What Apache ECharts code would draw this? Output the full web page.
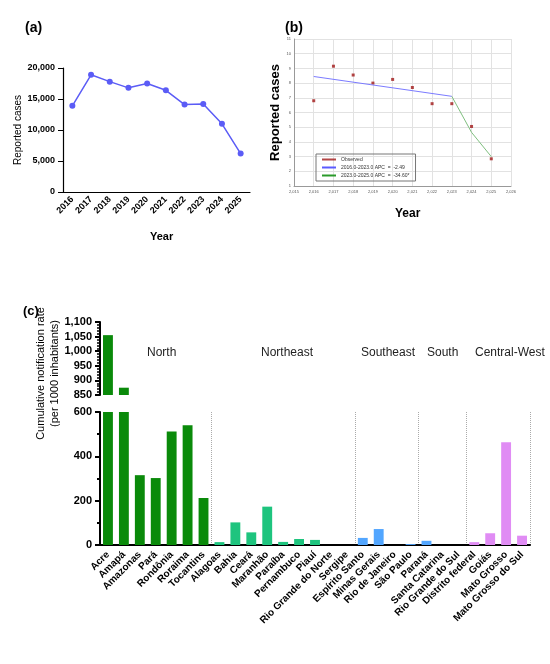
<!DOCTYPE html>
<html><head><meta charset="utf-8">
<script src="https://cdn.jsdelivr.net/npm/echarts@6/dist/echarts.min.js"></script>
<style>html,body{margin:0;background:#fff}#c{width:550px;height:664px}</style>
</head><body><div id="c"></div>
<script>
// (a) reported cases per year
var yearsA = ['2016','2017','2018','2019','2020','2021','2022','2023','2024','2025'];
var casesA = [13900, 18900, 17800, 16800, 17500, 16400, 14100, 14200, 11000, 6200];

// (b) joinpoint: observed (log scale-ish units) and fitted segments
var yearsB = [2016, 2017, 2018, 2019, 2020, 2021, 2022, 2023, 2024, 2025];
var observedB = [6.8, 9.15, 8.55, 8.0, 8.25, 7.7, 6.6, 6.6, 5.05, 2.85];
var seg1Years = [2016, 2023];
var seg1Vals = [8.45, 7.1];
var seg2Years = [2023, 2024, 2025];
var seg2Vals = [7.1, 4.65, 3.0];

// (c) cumulative notification rate by state
var states = ['Acre','Amapá','Amazonas','Pará','Rondônia','Roraima','Tocantins',
  'Alagoas','Bahia','Ceará','Maranhão','Paraíba','Pernambuco','Piauí','Rio Grande do Norte','Sergipe',
  'Espírito Santo','Minas Gerais','Rio de Janeiro','São Paulo',
  'Paraná','Santa Catarina','Rio Grande do Sul',
  'Distrito federal','Goiás','Mato Grosso','Mato Grosso do Sul'];
var rates = [1055, 875, 315, 302, 512, 540, 212,
  13, 102, 57, 173, 14, 27, 23, 0, 0,
  32, 72, 0, 4,
  19, 0, 0,
  13, 53, 463, 42];
var regionOf = ['N','N','N','N','N','N','N','NE','NE','NE','NE','NE','NE','NE','NE','NE',
  'SE','SE','SE','SE','S','S','S','CW','CW','CW','CW'];
var regionNames = ['North','Northeast','Southeast','South','Central-West'];
var boundaries = [7, 16, 20, 23];

var regionColor = {N:'#0a8a0a', NE:'#1ec47e', SE:'#52a6ff', S:'#52a6ff', CW:'#e08cf4'};
var bold = {fontFamily:'Arial, Liberation Sans', fontWeight:'bold', color:'#000'};

var rateData = rates.map(function (v, i) {
  return {value: v, itemStyle: {color: regionColor[regionOf[i]]}};
});
var rateTop = rates.map(function (v, i) {
  return v > 850 ? {value: v, itemStyle: {color: regionColor[regionOf[i]]}} : null;
});

var myChart = echarts.init(document.getElementById('c'));
var option = {
  backgroundColor: '#fff',
  animation: false,
  title: [
    {text: '(a)', left: 20, top: 16, textStyle: Object.assign({fontSize: 14}, bold)},
    {text: '(b)', left: 280, top: 16, textStyle: Object.assign({fontSize: 14}, bold)},
    {text: '(c)', left: 18, top: 300, textStyle: Object.assign({fontSize: 13}, bold)},
    {text: 'Year', left: 145, top: 226, textStyle: Object.assign({fontSize: 11}, bold)},
    {text: 'Year', left: 390, top: 203, textStyle: Object.assign({fontSize: 12}, bold)},
    {text: 'North', left: 142, top: 342, textStyle: {fontSize: 12, color: '#222', fontWeight: 'normal', fontFamily: 'Arial, Liberation Sans'}},
    {text: 'Northeast', left: 256, top: 342, textStyle: {fontSize: 12, color: '#222', fontWeight: 'normal', fontFamily: 'Arial, Liberation Sans'}},
    {text: 'Southeast', left: 356, top: 342, textStyle: {fontSize: 12, color: '#222', fontWeight: 'normal', fontFamily: 'Arial, Liberation Sans'}},
    {text: 'South', left: 422, top: 342, textStyle: {fontSize: 12, color: '#222', fontWeight: 'normal', fontFamily: 'Arial, Liberation Sans'}},
    {text: 'Central-West', left: 470, top: 342, textStyle: {fontSize: 12, color: '#222', fontWeight: 'normal', fontFamily: 'Arial, Liberation Sans'}}
  ],
  legend: {
    data: [
      {name: 'Observed', icon: 'rect'},
      {name: '2016.0-2023.0 APC  =  -2.49', icon: 'rect'},
      {name: '2023.0-2025.0 APC  =  -34.60*', icon: 'rect'}
    ],
    orient: 'vertical', left: 316, top: 154, itemWidth: 14, itemHeight: 2, itemGap: 3,
    padding: [3, 6], borderColor: '#777', borderWidth: 1,
    textStyle: {fontSize: 5, color: '#333'}
  },
  grid: [
    {left: 63, top: 68, width: 187, height: 124},
    {left: 294, top: 39, width: 217, height: 147},
    {left: 100, top: 322, width: 430, height: 73},
    {left: 100, top: 412, width: 430, height: 133}
  ],
  xAxis: [
    {gridIndex: 0, type: 'category', data: yearsA, boundaryGap: true,
      axisLine: {lineStyle: {color: '#000', width: 1.2}},
      axisTick: {alignWithLabel: true, lineStyle: {color: '#000'}},
      axisLabel: Object.assign({rotate: 45, fontSize: 9, margin: 6, interval: 0}, bold)},
    {gridIndex: 1, type: 'value', min: 2015, max: 2026, interval: 1,
      axisLine: {show: true, lineStyle: {color: '#999'}}, axisTick: {show: false},
      splitLine: {lineStyle: {color: '#e2e2e2'}},
      axisLabel: {fontSize: 4, color: '#555', margin: 4}},
    {gridIndex: 2, type: 'category', data: states, show: false, boundaryGap: true},
    {gridIndex: 3, type: 'category', data: states, boundaryGap: true,
      axisLine: {lineStyle: {color: '#000', width: 2}},
      axisTick: {alignWithLabel: true, length: 6, lineStyle: {color: '#000', width: 2}},
      splitLine: {show: true, interval: function (i) { return boundaries.indexOf(i) >= 0; },
        lineStyle: {color: '#aaa', type: 'dotted'}},
      axisLabel: Object.assign({rotate: 45, fontSize: 10, margin: 8, interval: 0}, bold)}
  ],
  yAxis: [
    {gridIndex: 0, type: 'value', min: 0, max: 20000, interval: 5000,
      name: 'Reported cases', nameLocation: 'middle', nameGap: 36,
      nameTextStyle: {fontSize: 10, fontFamily: 'Arial, Liberation Sans', color: '#000'},
      axisLine: {show: true, lineStyle: {color: '#000', width: 1.2}},
      axisTick: {show: true, lineStyle: {color: '#000'}}, splitLine: {show: false},
      axisLabel: Object.assign({fontSize: 9}, bold)},
    {gridIndex: 1, type: 'value', min: 1, max: 11, interval: 1,
      name: 'Reported cases', nameLocation: 'middle', nameGap: 12,
      nameTextStyle: Object.assign({fontSize: 13}, bold),
      axisLine: {show: true, lineStyle: {color: '#999'}}, axisTick: {show: false},
      splitLine: {lineStyle: {color: '#e2e2e2'}},
      axisLabel: {fontSize: 4, color: '#555', margin: 3}},
    {gridIndex: 2, type: 'value', min: 850, max: 1100, interval: 50,
      axisLine: {show: true, lineStyle: {color: '#000', width: 2}},
      axisTick: {show: true, length: 5, lineStyle: {color: '#000', width: 2}},
      minorTick: {show: true, splitNumber: 5, length: 3, lineStyle: {color: '#000', width: 1.5}},
      splitLine: {show: false},
      axisLabel: Object.assign({fontSize: 11}, bold)},
    {gridIndex: 3, type: 'value', min: 0, max: 600, interval: 200,
      name: 'Cumulative notification rate\n(per 1000 inhabitants)', nameLocation: 'middle', nameGap: 38,
      nameTextStyle: {fontSize: 11, fontFamily: 'Arial, Liberation Sans', color: '#000', lineHeight: 14, padding: [0, 0, 0, 210]},
      axisLine: {show: true, lineStyle: {color: '#000', width: 2}},
      axisTick: {show: true, length: 5, lineStyle: {color: '#000', width: 2}},
      minorTick: {show: true, splitNumber: 2, length: 3, lineStyle: {color: '#000', width: 2}},
      splitLine: {show: false},
      axisLabel: Object.assign({fontSize: 11}, bold)}
  ],
  series: [
    {type: 'line', xAxisIndex: 0, yAxisIndex: 0, data: casesA, symbol: 'circle', symbolSize: 6,
      lineStyle: {color: '#5b5cf6', width: 1.5}, itemStyle: {color: '#5b5cf6'}},
    {name: 'Observed', type: 'scatter', xAxisIndex: 1, yAxisIndex: 1, symbol: 'rect', symbolSize: 3,
      itemStyle: {color: '#a01818'},
      data: yearsB.map(function (y, i) { return [y, observedB[i]]; })},
    {name: '2016.0-2023.0 APC  =  -2.49', type: 'line', xAxisIndex: 1, yAxisIndex: 1, showSymbol: false,
      lineStyle: {color: '#7b7bff', width: 1}, itemStyle: {color: '#5b5bff'},
      data: seg1Years.map(function (y, i) { return [y, seg1Vals[i]]; })},
    {name: '2023.0-2025.0 APC  =  -34.60*', type: 'line', xAxisIndex: 1, yAxisIndex: 1, showSymbol: false,
      lineStyle: {color: '#7fbf7f', width: 1}, itemStyle: {color: '#2a9a2a'},
      data: seg2Years.map(function (y, i) { return [y, seg2Vals[i]]; })},
    {type: 'bar', xAxisIndex: 2, yAxisIndex: 2, data: rateTop, barWidth: '62%', clip: true},
    {type: 'bar', xAxisIndex: 3, yAxisIndex: 3, data: rateData, barWidth: '62%', clip: true}
  ]
};
myChart.setOption(option);
</script>
</body></html>
